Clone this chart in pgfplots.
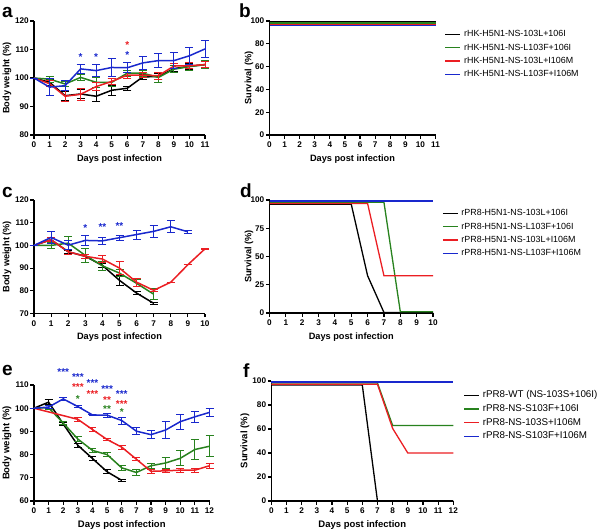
\documentclass[border=0pt]{standalone}
\usepackage{pgfplots}
\pgfplotsset{compat=1.18}
\usepackage{fontspec}
\setmainfont{Liberation Sans}
\definecolor{cblack}{RGB}{0,0,0}
\definecolor{cgreen}{RGB}{40,130,30}
\definecolor{cred}{RGB}{235,30,35}
\definecolor{cblue}{RGB}{25,40,205}
\tikzset{star/.style={anchor=base, yshift=-4.6pt, font=\fontsize{10}{10}\selectfont\bfseries, text=#1, inner sep=0pt}}
\pgfplotsset{
  panel/.style={
    scale only axis,
    axis lines=left,
    axis line style={line width=1.3pt, -},
    tick style={line width=1.1pt, black},
    major tick length=3.5pt,
    tick align=outside,
    /pgf/number format/assume math mode=true,
    ticklabel style={font=\fontsize{8.2}{9}\selectfont\bfseries},
    yticklabel style={inner sep=1.5pt},
    label style={font=\fontsize{9.2}{10}\selectfont\bfseries},
    xlabel={Days post infection},
    ylabel style={at={(axis description cs:-#1,0.5)}, anchor=center},
    clip=false,
    legend style={draw=none, fill=none, font=\fontsize{8.9}{10}\selectfont,
      legend cell align=left, anchor=north west, at={(axis description cs:1.055,0.925)},
      inner sep=0pt, row sep=4.4pt,
      nodes={inner sep=0pt, text height=7pt, text depth=2pt},
      /tikz/every odd column/.append style={column sep=3pt}},
    legend image code/.code={\draw[##1, line width=1.3pt] (0pt,0pt) -- (15pt,0pt);},
  },
  ser/.style={line width=1.5pt, color=#1, mark=none,
    error bars/.cd, y dir=both, y explicit,
    error bar style={line width=0.9pt, color=#1},
    error mark options={rotate=90, line width=0.9pt, mark size=4pt, color=#1}},
  sur/.style={line width=1.3pt, color=#1, mark=none},
}
\begin{document}
\begin{tikzpicture}
\useasboundingbox (0pt,0pt) rectangle (600pt,-531pt);
% panel letters
\node[anchor=base west, inner sep=0pt, font=\fontsize{19}{20}\selectfont\bfseries] at (2pt,-17pt) {a};
\node[anchor=base west, inner sep=0pt, font=\fontsize{19}{20}\selectfont\bfseries] at (239pt,-17pt) {b};
\node[anchor=base west, inner sep=0pt, font=\fontsize{19}{20}\selectfont\bfseries] at (2pt,-197pt) {c};
\node[anchor=base west, inner sep=0pt, font=\fontsize{19}{20}\selectfont\bfseries] at (240pt,-197pt) {d};
\node[anchor=base west, inner sep=0pt, font=\fontsize{19}{20}\selectfont\bfseries] at (2pt,-375pt) {e};
\node[anchor=base west, inner sep=0pt, font=\fontsize{19}{20}\selectfont\bfseries] at (243pt,-377pt) {f};

% ---------- a ----------
\begin{axis}[panel=0.158, at={(34pt,-135pt)}, anchor=south west, width=171pt, height=114pt,
  xmin=0, xmax=11, ymin=80, ymax=120, xtick={0,...,11}, ytick={80,90,...,120},
  ylabel={Body weight (\%)}]
\addplot[ser=cblack] coordinates {(0,100) +- (0,0) (1,98.5) +- (0,1) (2,93.8) +- (0,1.5) (3,94.4) +- (0,1.5) (4,93.6) +- (0,2) (5,95.7) +- (0,1.8) (6,96.4) +- (0,0.7) (7,100.4) +- (0,1) (8,100.5) +- (0,1) (9,103.3) +- (0,1) (10,104.1) +- (0,1) (11,104.7) +- (0,1)};
\addplot[ser=cgreen] coordinates {(0,100) +- (0,0) (1,99.6) +- (0,1) (2,97.9) +- (0,1) (3,100.2) +- (0,1.2) (4,98.5) +- (0,1.8) (5,98.5) +- (0,1.5) (6,101.7) +- (0,1) (7,101.7) +- (0,1) (8,100.2) +- (0,1.7) (9,103.1) +- (0,1.2) (10,104) +- (0,1.3) (11,104.7) +- (0,1.5)};
\addplot[ser=cred] coordinates {(0,100) +- (0,0) (1,98) +- (0,1) (2,93.6) +- (0,2) (3,94.3) +- (0,2.2) (4,97) +- (0,1.5) (5,98.8) +- (0,1.2) (6,101) +- (0,1) (7,101) +- (0,0.8) (8,100.8) +- (0,1.3) (9,104.2) +- (0,1) (10,104.3) +- (0,1) (11,104.7) +- (0,1)};
\addplot[ser=cblue] coordinates {(0,100) +- (0,0) (1,96.8) +- (0,2.9) (2,97.3) +- (0,1.7) (3,103.2) +- (0,1.7) (4,102.6) +- (0,2) (5,103.7) +- (0,3) (6,103.6) +- (0,1.7) (7,105.3) +- (0,2.3) (8,106.1) +- (0,2.4) (9,106.1) +- (0,2.7) (10,107.8) +- (0,2.9) (11,110.2) +- (0,3)};
\node[star=cblue] at (axis cs:3,107.9) {*};
\node[star=cblue] at (axis cs:4,107.7) {*};
\node[star=cblue] at (axis cs:6,108.4) {*};
\node[star=cred] at (axis cs:6,111.9) {*};
\end{axis}

% ---------- b ----------
\begin{axis}[panel=0.1235, at={(269.5pt,-135pt)}, anchor=south west, width=166pt, height=114pt,
  xmin=0, xmax=11, ymin=0, ymax=100, xtick={0,...,11}, ytick={0,20,...,100},
  ylabel={Survival (\%)}]
\addplot[sur=cblack] coordinates {(0,99.4) (11,99.4)};
\addlegendentry{rHK-H5N1-NS-103L+106I}
\addplot[sur=cgreen] coordinates {(0,98.3) (11,98.3)};
\addlegendentry{rHK-H5N1-NS-L103F+106I}
\addplot[sur=cred] coordinates {(0,97.2) (11,97.2)};
\addlegendentry{rHK-H5N1-NS-103L+I106M}
\addplot[sur=cblue] coordinates {(0,96.3) (11,96.3)};
\addlegendentry{rHK-H5N1-NS-L103F+I106M}
\end{axis}

% ---------- c ----------
\begin{axis}[panel=0.158, at={(34pt,-313.5pt)}, anchor=south west, width=171pt, height=113.5pt,
  xmin=0, xmax=10, ymin=70, ymax=120, xtick={0,...,10}, ytick={70,80,...,120},
  ylabel={Body weight (\%)}]
\addplot[ser=cblack] coordinates {(0,100) +- (0,0) (1,102.5) +- (0,1) (2,97.2) +- (0,0.8) (3,95.2) +- (0,1) (4,91.2) +- (0,1) (5,84.6) +- (0,2.3) (6,79) +- (0,0.5) (7,74.5) +- (0,0.3)};
\addplot[ser=cgreen] coordinates {(0,100) +- (0,0) (1,100) +- (0,1.5) (2,101) +- (0,3) (3,95.6) +- (0,3) (4,91) +- (0,2) (5,87.8) +- (0,1.5) (6,83.3) +- (0,1.5) (7,78.5) +- (0,2.5)};
\addplot[ser=cred] coordinates {(0,100) +- (0,0) (1,102.5) +- (0,0.8) (2,97.2) +- (0,1) (3,95.2) +- (0,1) (4,94) +- (0,1.5) (5,90) +- (0,3) (6,83.8) +- (0,1.8) (7,80.2) +- (0,0.5) (8,83.8) +- (0,0) (9,91.5) +- (0,0) (10,98.5) +- (0,0.3)};
\addplot[ser=cblue] coordinates {(0,100) +- (0,0) (1,103.5) +- (0,2.5) (2,100.1) +- (0,2) (3,102.2) +- (0,2.2) (4,102) +- (0,1.5) (5,103.4) +- (0,1.2) (6,104.8) +- (0,2) (7,106.2) +- (0,2.8) (8,108.2) +- (0,2.7) (9,106) +- (0,0.8)};
\node[star=cblue] at (axis cs:3,108.1) {*};
\node[star=cblue] at (axis cs:4,108.5) {**};
\node[star=cblue] at (axis cs:5,109) {**};
\end{axis}

% ---------- d ----------
\begin{axis}[panel=0.125, at={(269.5pt,-313pt)}, anchor=south west, width=163.5pt, height=113pt,
  xmin=0, xmax=10, ymin=0, ymax=100, xtick={0,...,10}, ytick={0,25,50,75,100},
  ylabel={Survival (\%)}]
\addplot[sur=cblack] coordinates {(0,96.3) (5,96.3) (6,33) (7,0.5) (10,0.5)};
\addlegendentry{rPR8-H5N1-NS-103L+106I}
\addplot[sur=cgreen] coordinates {(0,98) (7,98) (8,1.2) (10,1.2)};
\addlegendentry{rPR8-H5N1-NS-L103F+106I}
\addplot[sur=cred] coordinates {(0,96.9) (6,96.9) (7,33) (10,33)};
\addlegendentry{rPR8-H5N1-NS-103L+I106M}
\addplot[sur=cblue] coordinates {(0,99.2) (10,99.2)};
\addlegendentry{rPR8-H5N1-NS-L103F+I106M}
\end{axis}

% ---------- e ----------
\begin{axis}[panel=0.154, at={(34pt,-501pt)}, anchor=south west, width=175.5pt, height=116pt,
  xmin=0, xmax=12, ymin=60, ymax=110, xtick={0,...,12}, ytick={60,70,...,110},
  ylabel={Body weight (\%)}, label style={font=\fontsize{9.5}{10}\selectfont\bfseries}]
\addplot[ser=cblack] coordinates {(0,100) +- (0,0) (1,102.6) +- (0,1) (2,93.2) +- (0,0.8) (3,84) +- (0,0.8) (4,78.3) +- (0,0.8) (5,72.6) +- (0,0.9) (6,68.9) +- (0,0.5)};
\addplot[ser=cgreen] coordinates {(0,100) +- (0,0) (1,100.2) +- (0,0.8) (2,93.6) +- (0,0.8) (3,86.7) +- (0,1) (4,81.8) +- (0,0.8) (5,80) +- (0,1) (6,74.3) +- (0,1.2) (7,72.3) +- (0,1.2) (8,75.2) +- (0,1.2) (9,76.4) +- (0,2.5) (10,78.4) +- (0,3.2) (11,82.2) +- (0,4.2) (12,83.6) +- (0,4.5)};
\addplot[ser=cred] coordinates {(0,100) +- (0,0) (3,95.2) +- (0,0.8) (4,90.8) +- (0,0.7) (5,86.5) +- (0,0.6) (6,83.2) +- (0,0.8) (7,78) +- (0,0.6) (8,72.8) +- (0,0.9) (9,73) +- (0,0.5) (10,73.3) +- (0,0.9) (11,73.3) +- (0,0.9) (12,75.2) +- (0,1)};
\addplot[ser=cblue] coordinates {(0,100) +- (0,0) (1,100.5) +- (0,0.5) (2,104) +- (0,0.6) (3,100.7) +- (0,0.5) (4,97.1) +- (0,0.3) (5,97) +- (0,0.8) (6,94.7) +- (0,1.5) (7,90.1) +- (0,1.5) (8,88.6) +- (0,1.8) (9,90.6) +- (0,3.5) (10,94.2) +- (0,3.2) (11,96.3) +- (0,2.3) (12,98.2) +- (0,1.8)};
\node[star=cblue] at (axis cs:2,116.1) {***};
\node[star=cblue] at (axis cs:3,114.1) {***};
\node[star=cblue] at (axis cs:4,111.2) {***};
\node[star=cblue] at (axis cs:5,108.6) {***};
\node[star=cblue] at (axis cs:6,106.5) {***};
\node[star=cred] at (axis cs:3,109.7) {***};
\node[star=cred] at (axis cs:4,106.4) {***};
\node[star=cred] at (axis cs:5,104.2) {**};
\node[star=cred] at (axis cs:6,102.1) {***};
\node[star=cgreen] at (axis cs:3,104.5) {*};
\node[star=cgreen] at (axis cs:5,100.2) {**};
\node[star=cgreen] at (axis cs:6,98.8) {*};
\end{axis}

% ---------- f ----------
\begin{axis}[panel=0.1445, at={(271.3pt,-501pt)}, anchor=south west, width=182pt, height=120pt,
  xmin=0, xmax=12, ymin=0, ymax=100, xtick={0,...,12}, ytick={0,20,...,100},
  ylabel={Survival (\%)}, label style={font=\fontsize{9.5}{10}\selectfont\bfseries},
  legend style={font=\fontsize{9.8}{10}\selectfont, row sep=4.7pt, at={(axis description cs:1.055,0.92)}}]
\addplot[sur=cblack] coordinates {(0,96.6) (6,96.6) (7,0) (12,0)};
\addlegendentry{rPR8-WT (NS-103S+106I)}
\addplot[sur=cgreen] coordinates {(0,98.3) (7,98.3) (8,63) (12,63)};
\addlegendentry{rPR8-NS-S103F+106I}
\addplot[sur=cred] coordinates {(0,97.3) (7,97.3) (8,60.5) (9,40) (12,40)};
\addlegendentry{rPR8-NS-103S+I106M}
\addplot[sur=cblue] coordinates {(0,99.2) (12,99.2)};
\addlegendentry{rPR8-NS-S103F+I106M}
\end{axis}
\end{tikzpicture}
\end{document}
